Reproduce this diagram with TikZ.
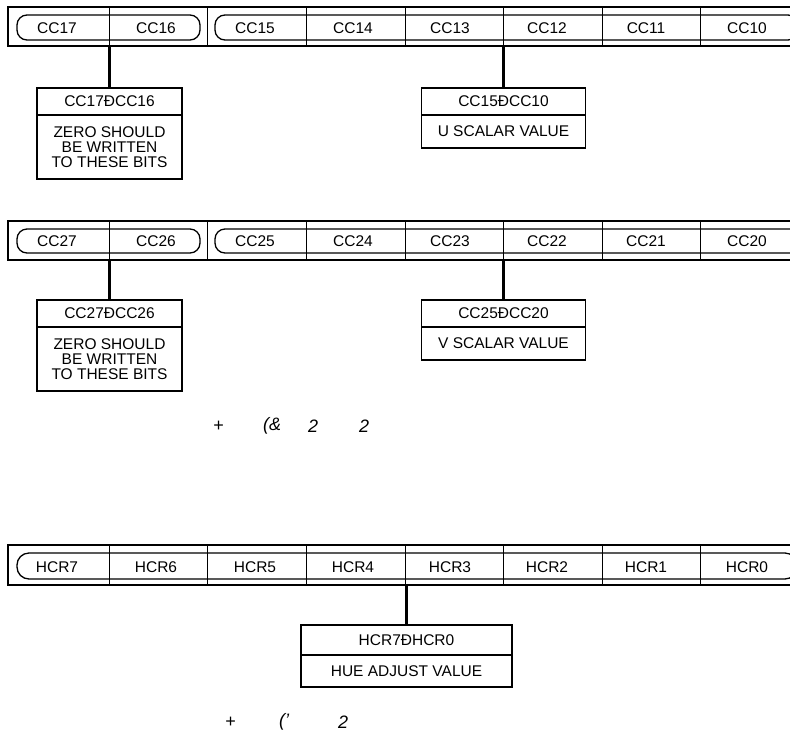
\documentclass[tikz,border=0pt]{standalone}
\usepackage{fontspec}
\setmainfont{Liberation Sans}
\begin{document}
\begin{tikzpicture}[x=1pt,y=-1pt,
  frame/.style={line width=2.4pt},
  innerbox/.style={line width=1.3pt, rounded corners=10pt},
  cellsep/.style={line width=0.9pt},
  celltext/.style={font=\fontsize{15.5}{15.5}\selectfont, inner sep=0pt, anchor=center},
  link/.style={line width=3pt},
  hdrbox/.style={draw, line width=1.5pt, inner sep=0pt, font=\fontsize{15.5}{15.5}\selectfont},
  bodybox/.style={draw, line width=1.5pt, inner sep=0pt, align=center, font=\fontsize{15.5}{15}\selectfont},
  captext/.style={font=\fontsize{18}{18}\selectfont\itshape, inner sep=0pt, anchor=west}
]
\useasboundingbox (0,0) rectangle (790,732);
\clip (0,0) rectangle (790,732);

% ---------------- Register 1 ----------------
\draw[frame] (8,7) rectangle (808,46);
\foreach \x in {109,207,306,405,503,602,700} \draw[cellsep] (\x,7) -- (\x,46);
\draw[innerbox] (17,15) rectangle (200,40);
\draw[innerbox] (215,15) rectangle (798,40);
\node[celltext] (c17) at (57,28.5) {CC17};
\node[celltext] (c16) at (156,28.5) {CC16};
\node[celltext] (c15) at (255,28.5) {CC15};
\node[celltext] (c14) at (353,28.5) {CC14};
\node[celltext] (c13) at (450,28.5) {CC13};
\node[celltext] (c12) at (547,28.5) {CC12};
\node[celltext] (c11) at (646,28.5) {CC11};
\node[celltext] (c10) at (747,28.5) {CC10};

\node[hdrbox, minimum width=145pt, minimum height=27pt] (b1h) at (109.5,101.5) {CC17ÐCC16};
\node[bodybox, minimum width=145pt, minimum height=64pt] (b1b) at (109.5,147) {ZERO SHOULD\\BE WRITTEN\\TO THESE BITS};
\node[hdrbox, minimum width=164pt, minimum height=27pt] (b2h) at (503.5,101.5) {CC15ÐCC10};
\node[bodybox, minimum width=164pt, minimum height=33pt] (b2b) at (503.5,131.5) {U SCALAR VALUE};
\coordinate (r1a) at (109.5,46);
\coordinate (r1b) at (503.5,46);
\draw[link] (r1a) -- (b1h.north);
\draw[link] (r1b) -- (b2h.north);

% ---------------- Register 2 ----------------
\draw[frame] (8,221) rectangle (808,260);
\foreach \x in {109,207,306,405,503,602,700} \draw[cellsep] (\x,221) -- (\x,260);
\draw[innerbox] (17,229) rectangle (200,253);
\draw[innerbox] (215,229) rectangle (802,253);
\node[celltext] (c27) at (57,241.5) {CC27};
\node[celltext] (c26) at (156,241.5) {CC26};
\node[celltext] (c25) at (255,241.5) {CC25};
\node[celltext] (c24) at (353,241.5) {CC24};
\node[celltext] (c23) at (450,241.5) {CC23};
\node[celltext] (c22) at (547,241.5) {CC22};
\node[celltext] (c21) at (646,241.5) {CC21};
\node[celltext] (c20) at (747,241.5) {CC20};

\node[hdrbox, minimum width=145pt, minimum height=27pt] (b3h) at (109.5,313.5) {CC27ÐCC26};
\node[bodybox, minimum width=145pt, minimum height=64pt] (b3b) at (109.5,359) {ZERO SHOULD\\BE WRITTEN\\TO THESE BITS};
\node[hdrbox, minimum width=164pt, minimum height=27pt] (b4h) at (503.5,313.5) {CC25ÐCC20};
\node[bodybox, minimum width=164pt, minimum height=33pt] (b4b) at (503.5,343.5) {V SCALAR VALUE};
\coordinate (r2a) at (109.5,260);
\coordinate (r2b) at (503.5,260);
\draw[link] (r2a) -- (b3h.north);
\draw[link] (r2b) -- (b4h.north);

% caption 1
\node[captext] (k1a) at (213,426) {+};
\node[captext] (k1b) at (263,426) {(\&};
\node[captext] (k1c) at (308,426) {2};
\node[captext] (k1d) at (359,426) {2};

% ---------------- Register 3 ----------------
\draw[frame] (8,545) rectangle (808,585);
\foreach \x in {109,207,306,405,503,602,700} \draw[cellsep] (\x,545) -- (\x,585);
\draw[innerbox, rounded corners=12pt] (17,553) rectangle (797,579);
\node[celltext] (h7) at (57,567) {HCR7};
\node[celltext] (h6) at (156,567) {HCR6};
\node[celltext] (h5) at (255,567) {HCR5};
\node[celltext] (h4) at (353,567) {HCR4};
\node[celltext] (h3) at (450,567) {HCR3};
\node[celltext] (h2) at (547,567) {HCR2};
\node[celltext] (h1) at (646,567) {HCR1};
\node[celltext] (h0) at (747,567) {HCR0};

\node[hdrbox, minimum width=211pt, minimum height=30pt] (b5h) at (406.5,640) {HCR7ÐHCR0};
\node[bodybox, minimum width=211pt, minimum height=32pt] (b5b) at (406.5,671) {HUE ADJUST VALUE};
\coordinate (r3a) at (406.5,585);
\draw[link] (r3a) -- (b5h.north);

% caption 2
\node[captext] (k2a) at (225,722) {+};
\node[captext] (k2b) at (279,722) {('};
\node[captext] (k2c) at (338,722) {2};
\end{tikzpicture}
\end{document}
